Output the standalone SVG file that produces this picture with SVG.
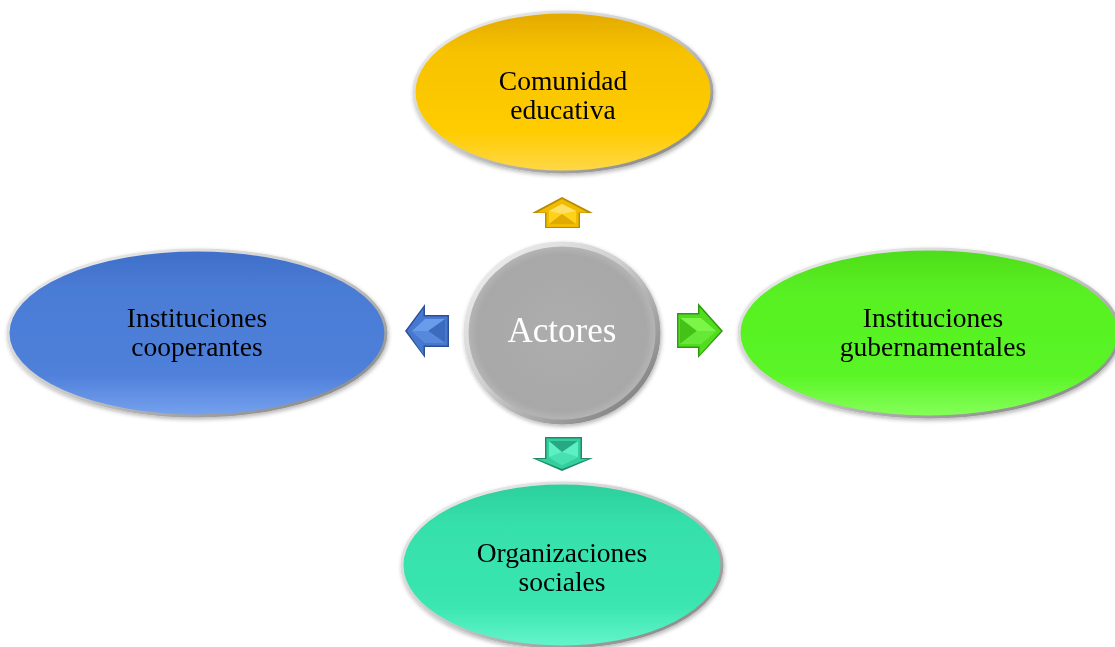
<svg xmlns="http://www.w3.org/2000/svg" width="1115" height="647" viewBox="0 0 1115 647">
<defs>
<style>
.lbl{font-family:"Liberation Serif","Times New Roman",serif;font-size:27.5px;fill:#000;text-anchor:middle}
.ctr{font-family:"Liberation Serif","Times New Roman",serif;font-size:35px;fill:#fff;text-anchor:middle}
.rim{stroke:url(#rimG);stroke-width:3}
</style>
<linearGradient id="rimG" x1="0" y1="0" x2="1" y2="1">
<stop offset="0" stop-color="#f2f2f2"/><stop offset="0.5" stop-color="#c8c8c8"/><stop offset="1" stop-color="#7a7a7a"/>
</linearGradient>
<linearGradient id="yel" x1="0" y1="0" x2="0" y2="1">
<stop offset="0" stop-color="#e3a900"/><stop offset="0.25" stop-color="#f7c200"/><stop offset="0.75" stop-color="#ffcc00"/><stop offset="1" stop-color="#ffd84a"/>
</linearGradient>
<linearGradient id="blu" x1="0" y1="0" x2="0" y2="1">
<stop offset="0" stop-color="#3f6fc8"/><stop offset="0.25" stop-color="#4a7cd6"/><stop offset="0.75" stop-color="#4f80da"/><stop offset="1" stop-color="#76a2ee"/>
</linearGradient>
<linearGradient id="grn" x1="0" y1="0" x2="0" y2="1">
<stop offset="0" stop-color="#4edc1c"/><stop offset="0.25" stop-color="#58f022"/><stop offset="0.75" stop-color="#5af526"/><stop offset="1" stop-color="#86ff5a"/>
</linearGradient>
<linearGradient id="tea" x1="0" y1="0" x2="0" y2="1">
<stop offset="0" stop-color="#2ccf9c"/><stop offset="0.25" stop-color="#36e0aa"/><stop offset="0.75" stop-color="#3ae6b0"/><stop offset="1" stop-color="#66f5cc"/>
</linearGradient>
<radialGradient id="gry" cx="0.5" cy="0.5" r="0.5">
<stop offset="0" stop-color="#adadad"/><stop offset="0.88" stop-color="#a8a8a8"/><stop offset="1" stop-color="#b8b8b8"/>
</radialGradient>
<linearGradient id="gryRim" x1="0" y1="0" x2="1" y2="1">
<stop offset="0" stop-color="#f4f4f4"/><stop offset="0.45" stop-color="#cfcfcf"/><stop offset="1" stop-color="#707070"/>
</linearGradient>
<filter id="sh" x="-10%" y="-10%" width="120%" height="130%">
<feGaussianBlur in="SourceAlpha" stdDeviation="2"/><feOffset dx="1" dy="2"/>
<feComponentTransfer><feFuncA type="linear" slope="0.3"/></feComponentTransfer>
<feMerge><feMergeNode/><feMergeNode in="SourceGraphic"/></feMerge>
</filter>
</defs>
<rect width="1115" height="647" fill="#fff"/>

<g id="connectors">
<g id="arrow-up">
<path d="M562,197 L593,213 L580,213 L580,228 L545,228 L545,213 L532,213 Z" fill="#b88c00"/>
<path d="M562,199 L588,212.5 L578.5,212.5 L578.5,227 L546.5,227 L546.5,212.5 L537,212.5 Z" fill="#f0bb00"/>
<path d="M562,204 L576,211 L576,224 L549,224 L549,211 Z" fill="#ffd21a"/>
<path d="M562,204 L576,211 L562,214 L549,211 Z" fill="#ffe066"/>
<path d="M549,224 L562,214 L576,224 Z" fill="#e0aa00"/>
</g>
<g id="arrow-left">
<path d="M405,331 L425,304 L425,315 L449,315 L449,347 L425,347 L425,358 Z" fill="#2c4f98"/>
<path d="M407,331 L423.5,308 L423.5,316.5 L447.5,316.5 L447.5,345.5 L423.5,345.5 L423.5,355 Z" fill="#4678d0"/>
<path d="M412,331 L425,319 L445,319 L445,343 L425,343 Z" fill="#6a9cec"/>
<path d="M428,331 L445,319 L445,343 Z" fill="#3c6bbd"/>
<path d="M428,331 L445,343 L425,343 L412,331 Z" fill="#5688dc"/>
</g>
<g id="arrow-right">
<path d="M723,331 L698,303 L698,313 L677,313 L677,348 L698,348 L698,358 Z" fill="#2f9a10"/>
<path d="M721,331 L699.5,307 L699.5,314.5 L678.5,314.5 L678.5,346.5 L699.5,346.5 L699.5,355 Z" fill="#52dc1e"/>
<path d="M716,331 L701,318 L680,318 L680,344 L701,344 Z" fill="#7af548"/>
<path d="M680,318 L697,331 L680,344 Z" fill="#44c218"/>
<path d="M697,331 L716,331 L701,344 L680,344 Z" fill="#66e836"/>
</g>
<g id="arrow-down">
<path d="M545,437 L582,437 L582,458 L593,458 L562,471 L532,458 L545,458 Z" fill="#1f8a6a"/>
<path d="M546.5,438.5 L580.5,438.5 L580.5,459 L588,459 L562,469 L537,459 L546.5,459 Z" fill="#33d09e"/>
<path d="M549,441 L578,441 L578,457 L562,465 L549,457 Z" fill="#5cf0c4"/>
<path d="M549,441 L578,441 L562,452 Z" fill="#28a882"/>
<path d="M562,452 L578,457 L562,465 L549,457 Z" fill="#48e0b0"/>
</g>
</g>

<g id="node-top" filter="url(#sh)">
<ellipse cx="563" cy="92" rx="149" ry="80" fill="url(#yel)" class="rim"/>
<text class="lbl" x="563" y="90">Comunidad</text>
<text class="lbl" x="563" y="119">educativa</text>
</g>

<g id="node-left" filter="url(#sh)">
<ellipse cx="197" cy="333" rx="189" ry="83" fill="url(#blu)" class="rim"/>
<text class="lbl" x="197" y="327">Instituciones</text>
<text class="lbl" x="197" y="356">cooperantes</text>
</g>

<g id="node-right" filter="url(#sh)">
<ellipse cx="929" cy="333" rx="190" ry="84" fill="url(#grn)" class="rim"/>
<text class="lbl" x="933" y="327">Instituciones</text>
<text class="lbl" x="933" y="356">gubernamentales</text>
</g>

<g id="node-bottom" filter="url(#sh)">
<ellipse cx="562" cy="565" rx="160" ry="82" fill="url(#tea)" class="rim"/>
<text class="lbl" x="562" y="562">Organizaciones</text>
<text class="lbl" x="562" y="591">sociales</text>
</g>

<g id="node-center" filter="url(#sh)">
<ellipse cx="562" cy="333" rx="96" ry="89" fill="url(#gry)" stroke="url(#gryRim)" stroke-width="5"/>
<text class="ctr" x="562" y="342">Actores</text>
</g>
</svg>
